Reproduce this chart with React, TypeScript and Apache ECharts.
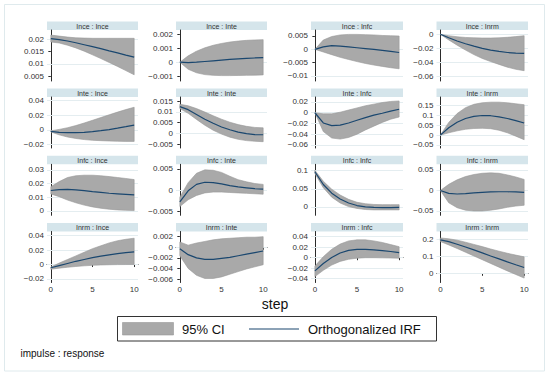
import React, { useEffect, useRef } from "react";
import * as echarts from "echarts";

const steps = [0, 1, 2, 3, 4, 5, 6, 7, 8, 9, 10];
const impulses = ["Ince", "Inte", "Infc", "Inrm"];
const responses = ["Ince", "Inte", "Infc", "Inrm"];
const xTicks = [0, 5, 10];

// impulse Ince
const irf_Ince_Ince = [0.0203, 0.0199, 0.0193, 0.0186, 0.0178, 0.017, 0.0162, 0.0153, 0.0145, 0.0136, 0.0128];
const lo_Ince_Ince = [0.0189, 0.0185, 0.0176, 0.0165, 0.0152, 0.0137, 0.0122, 0.0106, 0.009, 0.0073, 0.0056];
const hi_Ince_Ince = [0.0217, 0.0213, 0.0209, 0.0206, 0.0205, 0.0204, 0.0204, 0.0204, 0.0204, 0.0204, 0.0204];
const irf_Ince_Inte = [0, -0.00003, 0, 0.00005, 0.0001, 0.00015, 0.0002, 0.00024, 0.00027, 0.0003, 0.00032];
const lo_Ince_Inte = [0, -0.0005, -0.00075, -0.00088, -0.00093, -0.00095, -0.00095, -0.00094, -0.00093, -0.00092, -0.0009];
const hi_Ince_Inte = [0, 0.00045, 0.00078, 0.00102, 0.0012, 0.00133, 0.00143, 0.0015, 0.00155, 0.00158, 0.0016];
const irf_Ince_Infc = [0, 0.0009, 0.0014, 0.0012, 0.0009, 0.0006, 0.0003, 0, -0.0004, -0.0008, -0.0012];
const lo_Ince_Infc = [0, -0.001, -0.002, -0.003, -0.0038, -0.0046, -0.0053, -0.0059, -0.0064, -0.0069, -0.0073];
const hi_Ince_Infc = [0, 0.0035, 0.0048, 0.0054, 0.0056, 0.0056, 0.0055, 0.0054, 0.0052, 0.0051, 0.005];
const irf_Ince_Inrm = [0, -0.005, -0.0095, -0.0135, -0.017, -0.02, -0.0225, -0.0245, -0.026, -0.0268, -0.0272];
const lo_Ince_Inrm = [0, -0.008, -0.0155, -0.0225, -0.029, -0.0345, -0.039, -0.043, -0.047, -0.05, -0.052];
const hi_Ince_Inrm = [0, -0.002, -0.0035, -0.0045, -0.005, -0.0053, -0.0053, -0.005, -0.0043, -0.0033, -0.002];

// impulse Inte
const irf_Inte_Ince = [-0.0023, -0.0035, -0.004, -0.004, -0.0035, -0.0025, -0.0012, 0.0003, 0.0022, 0.0043, 0.0065];
const lo_Inte_Ince = [-0.003, -0.007, -0.01, -0.012, -0.0135, -0.0145, -0.015, -0.0155, -0.0158, -0.016, -0.016];
const hi_Inte_Ince = [-0.0015, 0.0005, 0.0028, 0.0058, 0.0093, 0.013, 0.0168, 0.0206, 0.0243, 0.0278, 0.031];
const irf_Inte_Inte = [0.0124, 0.011, 0.0088, 0.0066, 0.0047, 0.003, 0.0017, 0.0006, -0.0001, -0.0005, -0.0006];
const lo_Inte_Inte = [0.0115, 0.0093, 0.0065, 0.0038, 0.0015, -0.0003, -0.0017, -0.0027, -0.0033, -0.0036, -0.0038];
const hi_Inte_Inte = [0.0135, 0.0128, 0.0115, 0.0099, 0.0082, 0.0066, 0.0052, 0.0041, 0.0033, 0.0028, 0.0026];
const irf_Inte_Infc = [0, -0.019, -0.024, -0.023, -0.019, -0.014, -0.009, -0.0045, -0.001, 0.003, 0.0065];
const lo_Inte_Infc = [0, -0.035, -0.047, -0.049, -0.046, -0.04, -0.032, -0.025, -0.018, -0.012, -0.008];
const hi_Inte_Infc = [0, -0.002, -0.002, 0.001, 0.005, 0.009, 0.013, 0.016, 0.019, 0.021, 0.022];
const irf_Inte_Inrm = [0, 0.038, 0.066, 0.085, 0.096, 0.1, 0.099, 0.093, 0.085, 0.074, 0.062];
const lo_Inte_Inrm = [0, 0.012, 0.022, 0.03, 0.034, 0.035, 0.033, 0.025, 0.012, -0.005, -0.023];
const hi_Inte_Inrm = [0, 0.065, 0.11, 0.14, 0.157, 0.165, 0.168, 0.168, 0.165, 0.16, 0.155];

// impulse Infc
const irf_Infc_Ince = [0.015, 0.0157, 0.0158, 0.0155, 0.0149, 0.0142, 0.0136, 0.013, 0.0126, 0.0122, 0.0118];
const lo_Infc_Ince = [0.0125, 0.0105, 0.008, 0.006, 0.0043, 0.003, 0.002, 0.0013, 0.0008, 0.0005, 0.0003];
const hi_Infc_Ince = [0.0178, 0.0215, 0.0245, 0.0258, 0.0262, 0.0262, 0.0258, 0.0252, 0.0245, 0.0238, 0.023];
const irf_Infc_Inte = [-0.0027, -0.0001, 0.0014, 0.0019, 0.0018, 0.0015, 0.0011, 0.0008, 0.0006, 0.0004, 0.0003];
const lo_Infc_Inte = [-0.0038, -0.0022, -0.0012, -0.0006, -0.0004, -0.0004, -0.0005, -0.0006, -0.0007, -0.0008, -0.0009];
const hi_Infc_Inte = [-0.0016, 0.0018, 0.004, 0.0048, 0.0047, 0.0042, 0.0033, 0.0025, 0.002, 0.0016, 0.0014];
const irf_Infc_Infc = [0.097, 0.062, 0.038, 0.022, 0.011, 0.004, 0.0005, -0.001, -0.0015, -0.0015, -0.0013];
const lo_Infc_Infc = [0.092, 0.053, 0.027, 0.011, 0.001, -0.004, -0.007, -0.008, -0.008, -0.008, -0.008];
const hi_Infc_Infc = [0.101, 0.071, 0.049, 0.033, 0.021, 0.013, 0.009, 0.007, 0.0065, 0.0065, 0.0065];
const irf_Infc_Inrm = [0, -0.007, -0.0085, -0.0075, -0.006, -0.0045, -0.0035, -0.003, -0.003, -0.0035, -0.0045];
const lo_Infc_Inrm = [0, -0.03, -0.042, -0.048, -0.05, -0.05, -0.048, -0.045, -0.041, -0.038, -0.036];
const hi_Infc_Inrm = [0, 0.015, 0.026, 0.034, 0.039, 0.042, 0.043, 0.042, 0.038, 0.033, 0.027];

// impulse Inrm
const irf_Inrm_Ince = [-0.0045, -0.0015, 0.0015, 0.0045, 0.007, 0.0095, 0.0117, 0.0135, 0.015, 0.0165, 0.0175];
const lo_Inrm_Ince = [-0.0065, -0.005, -0.0038, -0.0027, -0.0018, -0.0011, -0.0006, -0.0003, -0.0001, 0, 0];
const hi_Inrm_Ince = [-0.0035, 0.002, 0.007, 0.012, 0.017, 0.022, 0.026, 0.03, 0.033, 0.035, 0.0365];
const irf_Inrm_Inte = [-0.0003, -0.0014, -0.002, -0.0023, -0.0023, -0.0021, -0.0019, -0.0016, -0.0013, -0.001, -0.0007];
const lo_Inrm_Inte = [-0.0016, -0.004, -0.0053, -0.0059, -0.0059, -0.0056, -0.0051, -0.0046, -0.0041, -0.0037, -0.0033];
const hi_Inrm_Inte = [0.001, 0.0004, 0.0008, 0.0011, 0.0014, 0.0016, 0.0017, 0.0018, 0.0019, 0.0019, 0.002];
const irf_Inrm_Infc = [-0.025, -0.011, 0.0005, 0.009, 0.014, 0.016, 0.0158, 0.0148, 0.0135, 0.0118, 0.0098];
const lo_Inrm_Infc = [-0.036, -0.024, -0.014, -0.007, -0.003, -0.001, 0, 0, -0.0003, -0.0006, -0.001];
const hi_Inrm_Infc = [-0.016, 0.002, 0.016, 0.026, 0.032, 0.034, 0.034, 0.032, 0.029, 0.025, 0.021];
const irf_Inrm_Inrm = [0.197, 0.186, 0.171, 0.155, 0.138, 0.12, 0.102, 0.085, 0.067, 0.05, 0.034];
const lo_Inrm_Inrm = [0.187, 0.167, 0.146, 0.124, 0.102, 0.08, 0.058, 0.036, 0.014, -0.007, -0.028];
const hi_Inrm_Inrm = [0.208, 0.203, 0.195, 0.183, 0.17, 0.157, 0.143, 0.13, 0.118, 0.107, 0.097];

// y tick labels per panel (row = impulse, col = response)
const yTicks = [
  [[0.005, 0.01, 0.015, 0.02], [-0.001, 0, 0.001, 0.002], [-0.01, -0.005, 0, 0.005], [-0.06, -0.04, -0.02, 0]],
  [[-0.02, 0, 0.02, 0.04], [-0.005, 0, 0.005, 0.01, 0.015], [-0.06, -0.04, -0.02, 0, 0.02], [-0.05, 0, 0.05, 0.1, 0.15]],
  [[0, 0.01, 0.02, 0.03], [-0.005, 0, 0.005], [0, 0.05, 0.1], [-0.05, 0, 0.05]],
  [[-0.02, 0, 0.02, 0.04], [-0.006, -0.004, -0.002, 0, 0.002], [-0.04, -0.02, 0, 0.02, 0.04], [0, 0.1, 0.2]],
];
// y axis ranges per panel
const yMin = [
  [0.00309, -0.001333, -0.01188, -0.06671],
  [-0.0251, -0.00671, -0.0656, -0.0653],
  [-0.00315, -0.00584, -0.0229, -0.0605],
  [-0.0249, -0.00666, -0.0472, -0.0541],
];
const yMax = [
  [0.02377, 0.002284, 0.00725, 0.00614],
  [0.0451, 0.01685, 0.0293, 0.1943],
  [0.03417, 0.0061, 0.1176, 0.0639],
  [0.0458, 0.00298, 0.0499, 0.2459],
];

const irfs = [
  [irf_Ince_Ince, irf_Ince_Inte, irf_Ince_Infc, irf_Ince_Inrm],
  [irf_Inte_Ince, irf_Inte_Inte, irf_Inte_Infc, irf_Inte_Inrm],
  [irf_Infc_Ince, irf_Infc_Inte, irf_Infc_Infc, irf_Infc_Inrm],
  [irf_Inrm_Ince, irf_Inrm_Inte, irf_Inrm_Infc, irf_Inrm_Inrm],
];
const los = [
  [lo_Ince_Ince, lo_Ince_Inte, lo_Ince_Infc, lo_Ince_Inrm],
  [lo_Inte_Ince, lo_Inte_Inte, lo_Inte_Infc, lo_Inte_Inrm],
  [lo_Infc_Ince, lo_Infc_Inte, lo_Infc_Infc, lo_Infc_Inrm],
  [lo_Inrm_Ince, lo_Inrm_Inte, lo_Inrm_Infc, lo_Inrm_Inrm],
];
const his = [
  [hi_Ince_Ince, hi_Ince_Inte, hi_Ince_Infc, hi_Ince_Inrm],
  [hi_Inte_Ince, hi_Inte_Inte, hi_Inte_Infc, hi_Inte_Inrm],
  [hi_Infc_Ince, hi_Infc_Inte, hi_Infc_Infc, hi_Infc_Inrm],
  [hi_Inrm_Ince, hi_Inrm_Inte, hi_Inrm_Infc, hi_Inrm_Inrm],
];

const FONT = "Liberation Sans, Arial, sans-serif";
const BAND = "#a9a9a9";
const BAND_EDGE = "#979797";
const LINE = "#1a476f";
const GRIDLINE = "#e4edf0";
const STRIP = "#d5e5eb";
const AXIS = "#2b2b2b";

const colLeft = [47, 176, 311, 436.5];
const colWidth = [91, 91, 92, 91.5];
const rowTop = [21.5, 88.5, 155.8, 223];
const stripH = 8.5;
const plotH = 51;

const fmt = (v: number) => {
  const s = String(parseFloat(v.toFixed(6)));
  return s.replace("-", "\u2212");
};

export default function App() {
  const ref = useRef<HTMLDivElement>(null);
  useEffect(() => {
    if (!ref.current) return;
    const chart = echarts.init(ref.current, undefined, { renderer: "svg" });
    const grid: any[] = [];
    const xAxis: any[] = [];
    const yAxis: any[] = [];
    const series: any[] = [];
    const graphic: any[] = [];

    graphic.push({
      type: "rect",
      shape: { x: 4.5, y: 4.5, width: 540, height: 366.5 },
      style: { fill: "none", stroke: "#dfeaed", lineWidth: 1 },
      silent: true,
      z: -10,
    });

    for (let r = 0; r < 4; r++) {
      for (let c = 0; c < 4; c++) {
        const idx = r * 4 + c;
        const top = rowTop[r] + stripH;
        grid.push({ left: colLeft[c], top, width: colWidth[c], height: plotH });
        const bottomRow = r === 3;
        xAxis.push({
          type: "value",
          gridIndex: idx,
          min: -0.46,
          max: 10.46,
          show: bottomRow,
          axisLine: { show: true, lineStyle: { color: AXIS, width: 1 } },
          axisTick: { show: true, length: 2.5, customValues: xTicks, lineStyle: { color: AXIS } },
          axisLabel: {
            show: true,
            customValues: xTicks,
            fontSize: 8,
            color: "#333",
            fontFamily: FONT,
            margin: 3,
            formatter: (v: number) => String(v),
          },
          splitLine: { show: false },
        });
        yAxis.push({
          type: "value",
          gridIndex: idx,
          min: yMin[r][c],
          max: yMax[r][c],
          axisLine: { show: true, lineStyle: { color: AXIS, width: 1 } },
          axisTick: { show: true, length: 2.5, customValues: yTicks[r][c], lineStyle: { color: AXIS } },
          axisLabel: {
            show: true,
            customValues: yTicks[r][c],
            fontSize: 8,
            color: "#333",
            fontFamily: FONT,
            margin: 3,
            formatter: (v: number) => fmt(v),
          },
          splitLine: { show: false },
        });
        const lo = los[r][c];
        const hi = his[r][c];
        const irf = irfs[r][c];
        series.push({
          type: "custom",
          xAxisIndex: idx,
          yAxisIndex: idx,
          z: 2,
          silent: true,
          data: [[0, 0]],
          renderItem: (_p: any, api: any) => {
            const pts: number[][] = [];
            for (let i = 0; i < steps.length; i++) pts.push(api.coord([steps[i], hi[i]]));
            for (let i = steps.length - 1; i >= 0; i--) pts.push(api.coord([steps[i], lo[i]]));
            return {
              type: "polygon",
              shape: { points: pts },
              style: { fill: BAND, stroke: BAND_EDGE, lineWidth: 0.6 },
            };
          },
        });
        series.push({
          type: "line",
          xAxisIndex: idx,
          yAxisIndex: idx,
          z: 3,
          silent: true,
          symbol: "none",
          showSymbol: false,
          data: steps.map((s, i) => [s, irf[i]]),
          lineStyle: { color: LINE, width: 1.2 },
          markLine: {
            silent: true,
            z: 1,
            symbol: ["none", "none"],
            label: { show: false },
            lineStyle: { color: GRIDLINE, type: "solid", width: 1 },
            data: yTicks[r][c].map((v) => ({ yAxis: v })),
          },
        });
        graphic.push({
          type: "rect",
          shape: { x: colLeft[c], y: rowTop[r], width: colWidth[c], height: stripH },
          style: { fill: STRIP },
          silent: true,
        });
        graphic.push({
          type: "text",
          x: colLeft[c] + colWidth[c] / 2,
          y: rowTop[r] + stripH / 2 + 0.3,
          style: {
            text: `${impulses[r]} : ${responses[c]}`,
            fontSize: 7,
            fontWeight: "normal",
            fontFamily: FONT,
            fill: "#333",
            align: "center",
            verticalAlign: "middle",
          },
          silent: true,
        });
      }
    }

    // x axis title
    graphic.push({
      type: "text",
      x: 275,
      y: 304,
      style: { text: "step", fontSize: 14, fontWeight: "normal", fontFamily: FONT, fill: "#111", align: "center", verticalAlign: "middle" },
      silent: true,
    });
    // legend
    graphic.push({
      type: "rect",
      shape: { x: 117.5, y: 316.5, width: 319, height: 24.5 },
      style: { fill: "#fff", stroke: "#333", lineWidth: 1 },
      silent: true,
    });
    graphic.push({
      type: "rect",
      shape: { x: 122.5, y: 322.5, width: 51, height: 12.5 },
      style: { fill: BAND, stroke: BAND_EDGE, lineWidth: 0.6 },
      silent: true,
    });
    graphic.push({
      type: "text",
      x: 182,
      y: 329,
      style: { text: "95% CI", fontSize: 13, fontWeight: "normal", fontFamily: FONT, fill: "#111", align: "left", verticalAlign: "middle" },
      silent: true,
    });
    graphic.push({
      type: "line",
      shape: { x1: 249, y1: 329, x2: 299, y2: 329 },
      style: { stroke: LINE, lineWidth: 1.2 },
      silent: true,
    });
    graphic.push({
      type: "text",
      x: 308,
      y: 329,
      style: { text: "Orthogonalized IRF", fontSize: 13, fontWeight: "normal", fontFamily: FONT, fill: "#111", align: "left", verticalAlign: "middle" },
      silent: true,
    });
    graphic.push({
      type: "text",
      x: 20.5,
      y: 353.5,
      style: { text: "impulse : response", fontSize: 10, fontWeight: "normal", fontFamily: FONT, fill: "#111", align: "left", verticalAlign: "middle" },
      silent: true,
    });

    chart.setOption({
      animation: false,
      backgroundColor: "#ffffff",
      textStyle: { fontFamily: FONT },
      grid,
      xAxis,
      yAxis,
      series,
      graphic,
    });
    return () => chart.dispose();
  }, []);
  return (
    <div
      ref={ref}
      style={{ position: "absolute", left: 0, top: 0, width: 550, height: 375 }}
    />
  );
}
